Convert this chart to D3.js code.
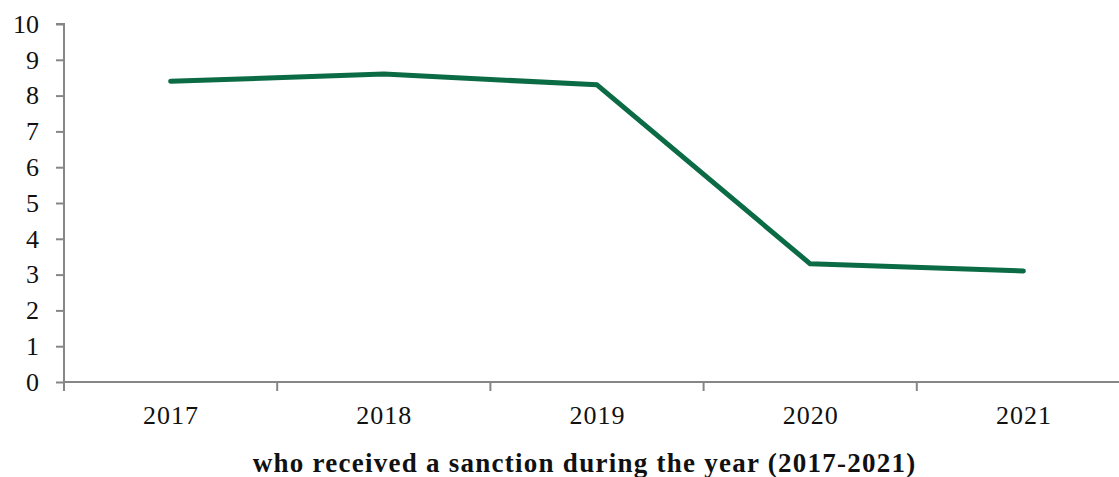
<!DOCTYPE html>
<html><head><meta charset="utf-8">
<script src="https://cdn.jsdelivr.net/npm/d3@7"></script>
<style>
html,body{margin:0;padding:0;background:#fff;overflow:hidden;}
svg{display:block;}
</style></head>
<body>
<svg id="chart" width="1119" height="477"></svg>
<script>
const categories = ["2017","2018","2019","2020","2021"];
const values = [8.4, 8.6, 8.3, 3.3, 3.1];
const yTicks = [0,1,2,3,4,5,6,7,8,9,10];
const titleText = "who received a sanction during the year (2017-2021)";

const svg = d3.select("#chart");
const mLeft = 64, mRight = 1130, mTop = 24, mBottom = 382;
const font = "'Liberation Serif', serif";
const tickSize = 26, titleSize = 27;

// letter spacing that brings a text to the reference's width
function fitSpacing(text, weight, size, target) {
  const t = svg.append("text").attr("font-family", font).attr("font-weight", weight)
    .attr("font-size", size).text(text);
  const w = t.node().getComputedTextLength();
  t.remove();
  return Math.max(0, (target - w) / text.length);
}
const tickSpacing = fitSpacing("2017", "normal", tickSize, 56);
const titleSpacing = fitSpacing(titleText, "bold", titleSize, 664);

const x = d3.scaleBand().domain(categories).range([mLeft, mRight]);
const y = d3.scaleLinear().domain([0,10]).range([mBottom, mTop]);

// y axis
const yAxis = svg.append("g").attr("transform", `translate(${mLeft},0)`)
  .call(d3.axisLeft(y).tickValues(yTicks).tickSize(8).tickPadding(17).tickFormat(d3.format("d")));
yAxis.select(".domain").attr("d", `M-8,${mTop}H0V${mBottom}`);

// x axis
const xAxis = svg.append("g").attr("transform", `translate(0,${mBottom})`)
  .call(d3.axisBottom(x).tickSize(0).tickPadding(24));
xAxis.select(".domain").attr("d", `M${mLeft},0H${mRight}`);
xAxis.selectAll(".tick text").attr("dy", null).attr("y", 42)
  .attr("letter-spacing", tickSpacing).attr("dx", tickSpacing / 2);
const bounds = categories.map(c => x(c)).concat([mRight]);
xAxis.selectAll(".bt").data(bounds).enter().append("line")
  .attr("class","bt").attr("x1",d=>d).attr("x2",d=>d).attr("y1",0).attr("y2",9);

svg.selectAll(".domain, .tick line, .bt").attr("stroke","#868686").attr("stroke-width",2);
svg.selectAll(".tick text").attr("font-family",font).attr("font-size",tickSize).attr("fill","#111");

// line
const line = d3.line().x((d,i)=>x(categories[i]) + x.bandwidth()/2).y(d=>y(d));
svg.append("path").datum(values).attr("d", line)
  .attr("fill","none").attr("stroke","#0b6b45").attr("stroke-width",5)
  .attr("stroke-linecap","round").attr("stroke-linejoin","round");

// title
svg.append("text").attr("x", 584 + titleSpacing / 2).attr("y", 472).attr("text-anchor","middle")
  .attr("font-family",font).attr("font-weight","bold").attr("font-size",titleSize)
  .attr("letter-spacing", titleSpacing)
  .attr("fill","#111").text(titleText);
</script>
</body></html>
